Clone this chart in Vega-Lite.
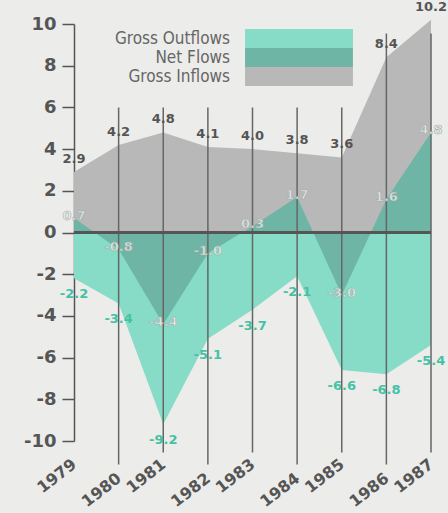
{
  "$schema": "https://vega.github.io/schema/vega-lite/v6.json",
  "width": 357,
  "height": 417,
  "autosize": {"type": "none"},
  "padding": {"left": 74, "top": 24, "right": 17, "bottom": 72},
  "background": "#ececea",
  "config": {
    "view": {"stroke": null},
    "font": "DejaVu Sans",
    "locale": {"number": {"decimal": ".", "thousands": ",", "grouping": [3], "currency": ["$", ""], "minus": "-"}}
  },
  "data": {
    "values": [
      {"year": 1979, "inflows": 2.9, "net": 0.7, "outflows": -2.2},
      {"year": 1980, "inflows": 4.2, "net": -0.8, "outflows": -3.4},
      {"year": 1981, "inflows": 4.8, "net": -4.4, "outflows": -9.2},
      {"year": 1982, "inflows": 4.1, "net": -1.0, "outflows": -5.1},
      {"year": 1983, "inflows": 4.0, "net": 0.3, "outflows": -3.7},
      {"year": 1984, "inflows": 3.8, "net": 1.7, "outflows": -2.1},
      {"year": 1985, "inflows": 3.6, "net": -3.0, "outflows": -6.6},
      {"year": 1986, "inflows": 8.4, "net": 1.6, "outflows": -6.8},
      {"year": 1987, "inflows": 10.2, "net": 4.8, "outflows": -5.4}
    ]
  },
  "encoding": {
    "x": {
      "field": "year",
      "type": "quantitative",
      "scale": {"domain": [1979, 1987], "nice": false, "zero": false},
      "axis": {
        "values": [1979, 1980, 1981, 1982, 1983, 1984, 1985, 1986, 1987],
        "format": "d",
        "labelAngle": -38,
        "labelAlign": "right",
        "labelBaseline": "middle",
        "labelFontSize": 16,
        "labelFontWeight": "bold",
        "labelColor": "#555555",
        "labelPadding": {"condition": {"test": "datum.value % 2 == 0", "value": 35}, "value": 21},
        "labelFlush": false,
        "labelOverlap": false,
        "domain": false,
        "ticks": false,
        "grid": false,
        "title": null
      }
    }
  },
  "layer": [
    {
      "mark": {"type": "area", "opacity": 1, "interpolate": "linear"},
      "encoding": {
        "y": {
          "field": "inflows",
          "type": "quantitative",
          "scale": {"domain": [-10, 10], "nice": false},
          "axis": {
            "values": [-10, -9, -8, -7, -6, -5, -4, -3, -2, -1, 0, 1, 2, 3, 4, 5, 6, 7, 8, 9, 10],
            "labelExpr": "datum.value % 2 == 0 ? '' + datum.value : ''",
            "tickSize": 12,
            "tickColor": "#555555",
            "tickWidth": 1.5,
            "domainColor": "#555555",
            "domainWidth": 1.5,
            "labelFontSize": 18,
            "labelFontWeight": "bold",
            "labelColor": "#555555",
            "labelPadding": 6,
            "grid": false,
            "title": null
          }
        },
        "y2": {"datum": 0},
        "color": {
          "datum": "Gross Inflows",
          "type": "nominal",
          "scale": {
            "domain": ["Gross Outflows", "Net Flows", "Gross Inflows"],
            "range": ["#86dcc6", "#6fb5a6", "#b8b8b8"]
          },
          "legend": {
            "orient": "none",
            "legendX": 215.5,
            "legendY": 5,
            "direction": "vertical",
            "title": null,
            "symbolType": "M-5.71,-1H5.71V1H-5.71Z",
            "symbolSize": 357,
            "symbolStrokeWidth": 0,
            "symbolOpacity": 1,
            "symbolOffset": 0,
            "labelAlign": "right",
            "labelBaseline": "middle",
            "labelOffset": -78.5,
            "labelFont": "DejaVu Sans Condensed",
            "labelFontSize": 17,
            "labelColor": "#666666",
            "labelLimit": 300,
            "rowPadding": 0,
            "padding": 0
          }
        }
      }
    },
    {
      "mark": {"type": "area", "opacity": 1, "interpolate": "linear"},
      "encoding": {
        "y": {"field": "outflows", "type": "quantitative"},
        "y2": {"datum": 0},
        "color": {"datum": "Gross Outflows", "type": "nominal"}
      }
    },
    {
      "mark": {"type": "area", "opacity": 1, "interpolate": "linear"},
      "encoding": {
        "y": {"field": "net", "type": "quantitative"},
        "y2": {"datum": 0},
        "color": {"datum": "Net Flows", "type": "nominal"}
      }
    },
    {
      "transform": [{"filter": "datum.year >= 1980 && datum.year <= 1985 && datum.year % 2 == 1"}],
      "mark": {"type": "rule", "color": "#666666", "strokeWidth": 1.5},
      "encoding": {"y": {"datum": 6}, "y2": {"datum": -10.55}}
    },
    {
      "transform": [{"filter": "datum.year >= 1980 && datum.year <= 1985 && datum.year % 2 == 0"}],
      "mark": {"type": "rule", "color": "#666666", "strokeWidth": 1.5},
      "encoding": {"y": {"datum": 6}, "y2": {"datum": -11.13}}
    },
    {
      "transform": [{"filter": "datum.year == 1986"}],
      "mark": {"type": "rule", "color": "#666666", "strokeWidth": 1.5},
      "encoding": {"y": {"datum": 9.55}, "y2": {"datum": -11.13}}
    },
    {
      "transform": [{"filter": "datum.year == 1987"}],
      "mark": {"type": "rule", "color": "#666666", "strokeWidth": 1.5},
      "encoding": {"y": {"datum": 9.55}, "y2": {"datum": -10.55}}
    },
    {
      "transform": [{"filter": "datum.year == 1979"}],
      "mark": {"type": "rule", "color": "#555555", "strokeWidth": 3},
      "encoding": {"x": {"datum": 1979}, "x2": {"datum": 1987}, "y": {"datum": 0}}
    },
    {
      "mark": {"type": "text", "dy": -13, "fontSize": 13, "fontWeight": "bold", "fill": "#555555"},
      "encoding": {
        "y": {"field": "inflows", "type": "quantitative"},
        "text": {"field": "inflows", "type": "quantitative", "format": ".1f"}
      }
    },
    {
      "mark": {"type": "text", "dy": 16, "fontSize": 13, "fontWeight": "bold", "fill": "#45c2a5"},
      "encoding": {
        "y": {"field": "outflows", "type": "quantitative"},
        "text": {"field": "outflows", "type": "quantitative", "format": ".1f"}
      }
    },
    {
      "mark": {"type": "text", "dy": -2, "fontSize": 13, "fontWeight": "bold", "fill": "#e6ecea", "stroke": "#9fa8a5", "strokeWidth": 0.6, "opacity": 0.9},
      "encoding": {
        "y": {"field": "net", "type": "quantitative"},
        "text": {"field": "net", "type": "quantitative", "format": ".1f"}
      }
    }
  ]
}
